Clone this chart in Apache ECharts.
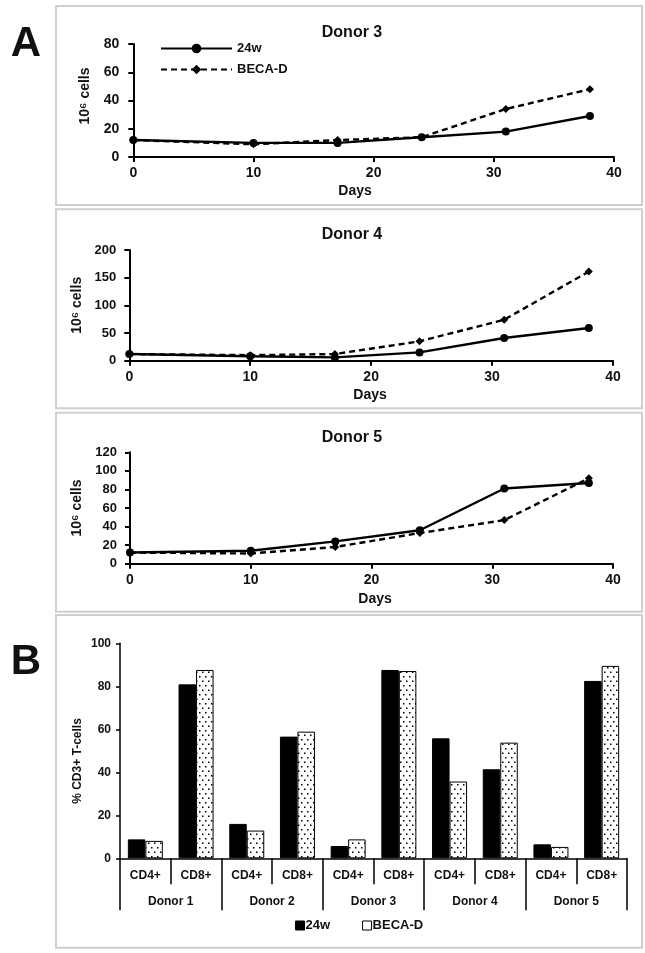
<!DOCTYPE html>
<html>
<head>
<meta charset="utf-8">
<script src="https://cdn.jsdelivr.net/npm/echarts@6/dist/echarts.min.js"></script>
<style>
html,body{margin:0;padding:0;background:#fff;}
#chart{width:645px;height:953px;}
</style>
</head>
<body>
<div id="chart"></div>
<script>
// ---- data ----
const days = [0, 10, 17, 24, 31, 38];
const donor3_24w = [12, 10, 10, 14, 18, 29];
const donor3_beca = [12, 9, 12, 14, 34, 48];
const donor4_24w = [12, 8, 6, 15, 41, 59];
const donor4_beca = [12, 10, 12, 35, 74, 161];
const donor5_24w = [12, 14, 24, 36, 81, 87];
const donor5_beca = [12, 11, 18, 33, 47, 92];

const donors = ['Donor 1', 'Donor 2', 'Donor 3', 'Donor 4', 'Donor 5'];
const subsets = ['CD4+', 'CD8+'];
const bar_24w = [8.8, 80.9, 16.0, 56.6, 5.7, 87.6, 55.8, 41.4, 6.5, 82.5];
const bar_beca = [8.1, 87.6, 12.9, 58.9, 8.8, 87.1, 35.7, 53.8, 5.3, 89.5];

const lineTitles = ['Donor 3', 'Donor 4', 'Donor 5'];
const yMax = [80, 200, 120];
const yStep = [20, 50, 20];

// ---- build ----
const FONT = '"Liberation Sans", Arial, Helvetica, sans-serif';
const INK = '#111';
const categories = [];
donors.forEach(d => subsets.forEach(s => categories.push(d + '|' + s)));

function pair(v) { return days.map((d, i) => [d, v[i]]); }

function dotPattern() {
  const c = document.createElement('canvas');
  c.width = 6; c.height = 9;
  const g = c.getContext('2d');
  g.fillStyle = '#fff'; g.fillRect(0, 0, 6, 9);
  g.fillStyle = '#000';
  g.fillRect(1, 1, 1.5, 1.5);
  g.fillRect(4, 5.5, 1.5, 1.5);
  return c;
}

const grids = [
  {left: 133.3, top: 44, width: 480.7, height: 113},
  {left: 129.3, top: 250, width: 483.7, height: 110.7},
  {left: 130, top: 452.3, width: 483, height: 111.4},
  {left: 120, top: 643.3, width: 507, height: 215}
];

const axisLineStyle = {color: '#000', width: 2};
const xAxes = [], yAxes = [], series = [];
const yNameGap = [41, 43, 43.5];
const yLabelSize = [14, 13, 13];
const yMargin = [14, 13, 13];
const sets = [[donor3_24w, donor3_beca], [donor4_24w, donor4_beca], [donor5_24w, donor5_beca]];

for (let i = 0; i < 3; i++) {
  xAxes.push({
    gridIndex: i, type: 'value', min: 0, max: 40, interval: 10,
    axisLine: {show: true, lineStyle: axisLineStyle},
    axisTick: {show: true, length: 5, lineStyle: {color: '#000', width: 2}},
    splitLine: {show: false},
    axisLabel: {color: INK, fontFamily: FONT, fontWeight: 'bold', fontSize: 14, margin: 9}
  });
  yAxes.push({
    gridIndex: i, type: 'value', min: 0, max: yMax[i], interval: yStep[i],
    axisLine: {show: true, lineStyle: axisLineStyle},
    axisTick: {show: true, length: 5, lineStyle: {color: '#000', width: 2}},
    splitLine: {show: false},
    axisLabel: {color: INK, fontFamily: FONT, fontWeight: 'bold', fontSize: yLabelSize[i], margin: yMargin[i]},
    name: '10\u2076 cells', nameLocation: 'middle', nameRotate: 90, nameGap: yNameGap[i],
    nameTextStyle: {color: INK, fontFamily: FONT, fontWeight: 'bold', fontSize: 14, padding: i === 0 ? [0, 0, 0, 9] : 0}
  });
  series.push({
    name: '24w', type: 'line', xAxisIndex: i, yAxisIndex: i, data: pair(sets[i][0]),
    symbol: 'circle', symbolSize: 8, z: 3,
    lineStyle: {color: '#000', width: 2.4}, itemStyle: {color: '#000'}
  });
  series.push({
    name: 'BECA-D', type: 'line', xAxisIndex: i, yAxisIndex: i, data: pair(sets[i][1]),
    symbol: 'diamond', symbolSize: 8, z: 2,
    lineStyle: {color: '#000', width: 2.4, type: [6, 4]}, itemStyle: {color: '#000'}
  });
}

// bar chart axes
xAxes.push({
  gridIndex: 3, type: 'category', data: categories, position: 'bottom',
  axisLine: {show: true, lineStyle: {color: '#000', width: 1.5}},
  axisTick: {show: true, interval: 0, length: 26, alignWithLabel: false, lineStyle: {color: '#000', width: 1.5}},
  axisLabel: {interval: 0, margin: 11, color: INK, fontFamily: FONT, fontWeight: 'bold', fontSize: 12,
    formatter: v => v.split('|')[1]}
});
xAxes.push({
  gridIndex: 3, type: 'category', data: donors, position: 'bottom',
  axisLine: {show: false},
  axisTick: {show: true, interval: 0, length: 52, alignWithLabel: false, lineStyle: {color: '#000', width: 1.5}},
  axisLabel: {interval: 0, margin: 37, color: INK, fontFamily: FONT, fontWeight: 'bold', fontSize: 12}
});
yAxes.push({
  gridIndex: 3, type: 'value', min: 0, max: 100, interval: 20,
  axisLine: {show: true, lineStyle: {color: '#000', width: 1.5}},
  axisTick: {show: true, length: 4, lineStyle: {color: '#000', width: 1.5}},
  splitLine: {show: false},
  axisLabel: {color: INK, fontFamily: FONT, fontWeight: 'bold', fontSize: 12, margin: 9}
});

const pattern = {image: dotPattern(), repeat: 'repeat'};
series.push({
  name: '24w', type: 'bar', xAxisIndex: 3, yAxisIndex: 3, data: bar_24w,
  barWidth: 17.5, barGap: '0%',
  itemStyle: {color: '#000', borderColor: '#000', borderWidth: 1}
});
series.push({
  name: 'BECA-D', type: 'bar', xAxisIndex: 3, yAxisIndex: 3, data: bar_beca,
  barWidth: 17.5, barGap: '0%',
  itemStyle: {color: pattern, borderColor: '#000', borderWidth: 1}
});

function box(y, h) {
  return {type: 'rect', shape: {x: 56, y: y, width: 586, height: h},
    style: {fill: null, stroke: '#cfcfcf', lineWidth: 2}, silent: true};
}
function txt(t, x, y, size, extra) {
  return Object.assign({type: 'text', x: x, y: y,
    style: {text: t, fontFamily: FONT, fontWeight: 'bold', fontSize: size, fill: INK,
      align: 'center', verticalAlign: 'middle'}}, extra || {});
}

const graphic = [
  box(6, 199), box(209.3, 199), box(412.7, 199), box(615, 332.7),
  txt('A', 26, 44, 42), txt('B', 26, 662, 42),
  txt(lineTitles[0], 352, 33, 16), txt(lineTitles[1], 352, 235, 16), txt(lineTitles[2], 352, 438, 16),
  txt('Days', 355, 191, 14), txt('Days', 370, 395, 14), txt('Days', 375, 599, 14),
  txt('% CD3+ T-cells', 78, 761, 12, {rotation: Math.PI / 2})
];

const chart = echarts.init(document.getElementById('chart'), null, {renderer: 'canvas'});
chart.setOption({
  animation: false,
  backgroundColor: '#fff',
  grid: grids,
  xAxis: xAxes,
  yAxis: yAxes,
  series: series,
  legend: [
    {
      orient: 'vertical', left: 160, top: 41, padding: 0, itemWidth: 71, itemHeight: 12, itemGap: 6,
      data: ['24w', 'BECA-D'], selectedMode: false,
      textStyle: {color: INK, fontFamily: FONT, fontWeight: 'bold', fontSize: 13, lineHeight: 15}
    },
    {
      orient: 'horizontal', left: 295, top: 919, padding: 0, itemWidth: 9, itemHeight: 9, itemGap: 32,
      selectedMode: false,
      data: [
        {name: '24w', icon: 'rect', itemStyle: {color: '#000', borderColor: '#000', borderWidth: 1}},
        {name: 'BECA-D', icon: 'rect', itemStyle: {color: '#fff', borderColor: '#000', borderWidth: 1}}
      ],
      textStyle: {color: INK, fontFamily: FONT, fontWeight: 'bold', fontSize: 13, padding: [0, 0, 0, -4]}
    }
  ],
  graphic: graphic
});
</script>
</body>
</html>
